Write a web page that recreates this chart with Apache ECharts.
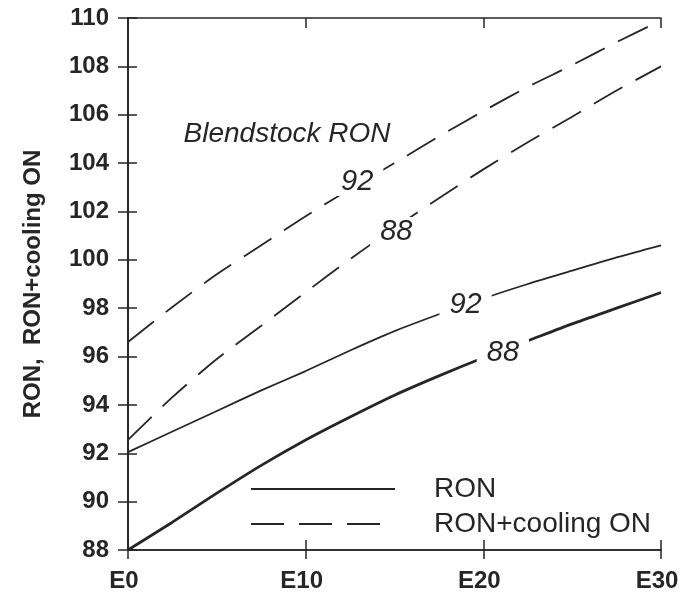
<!DOCTYPE html>
<html>
<head>
<meta charset="utf-8">
<script src="https://cdn.jsdelivr.net/npm/echarts@6/dist/echarts.min.js"></script>
<style>
  html, body { margin: 0; padding: 0; background: #fff; }
  #ronChart { width: 691px; height: 593px; }
</style>
</head>
<body>
<div id="ronChart"></div>
<script>
// ethanol blend level (E0 .. E30)
const ethanolLevels = [0, 2.5, 5, 7.5, 10, 12.5, 15, 17.5, 20, 22.5, 25, 27.5, 30];
const xTickValues = [0, 10, 20, 30];
const xTickLabels = ['E0', 'E10', 'E20', 'E30'];

// RON of the blend
const ron92 = [92.05, 92.9, 93.75, 94.6, 95.4, 96.25, 97.05, 97.75, 98.4, 99.0, 99.55, 100.1, 100.6];
const ron88 = [88.0, 89.15, 90.35, 91.5, 92.55, 93.5, 94.4, 95.2, 95.95, 96.65, 97.35, 98.0, 98.65];
// RON + charge cooling octane number
const cool92 = [96.6, 98.05, 99.4, 100.6, 101.8, 102.93, 104.0, 105.1, 106.15, 107.15, 108.05, 109.0, 109.9];
const cool88 = [92.55, 94.32, 95.9, 97.27, 98.66, 100.03, 101.32, 102.55, 103.74, 104.86, 105.92, 107.0, 108.0];

// blendstock labels sitting on the curves [E, value]
const blendLabels = ['92', '88', '92', '88'];
const blendLabelAt = [[19.0, 98.15], [21.1, 96.16], [12.9, 103.24], [15.1, 101.17]];
const titleText = 'Blendstock RON';
const titleAt = [8.95, 105.2];

const ink = '#262626';
const font = 'Liberation Sans, Arial, sans-serif';

function pairs(vals) {
  return ethanolLevels.map((e, i) => [e, vals[i]]);
}

function tagPoint(i) {
  return {
    symbol: 'rect',
    symbolSize: 0,
    silent: true,
    label: {
      show: true,
      position: 'inside',
      formatter: '{b}',
      fontFamily: font,
      fontStyle: 'italic',
      fontSize: 29,
      color: ink,
      backgroundColor: '#fff',
      padding: [0, 10],
    },
    data: [{ name: blendLabels[i], coord: blendLabelAt[i] }],
  };
}

function lineSeries(name, vals, width, dashed, idx) {
  return {
    name: name,
    type: 'line',
    data: pairs(vals),
    symbol: 'none',
    smooth: 0.25,
    lineStyle: {
      color: ink,
      width: width,
      type: dashed ? [33, 15] : 'solid',
    },
    itemStyle: { color: ink },
    markPoint: tagPoint(idx),
  };
}

let series = [
  lineSeries('RON', ron92, 1.8, false, 0),
  lineSeries('RON', ron88, 2.8, false, 1),
  lineSeries('RON+cooling ON', cool92, 1.8, true, 2),
  lineSeries('RON+cooling ON', cool88, 1.8, true, 3),
];
// title text inside the plot
series[0].markPoint.data.push({
  name: titleText,
  coord: titleAt,
  label: { backgroundColor: 'transparent', padding: 0, fontSize: 28 },
});

const axisLine = { show: true, lineStyle: { color: ink, width: 1.5 } };
const tickStyle = { color: ink, width: 1.5 };

let myChart = echarts.init(document.getElementById('ronChart'));
myChart.setOption({
  animation: false,
  grid: { left: 128, right: 30, top: 18, bottom: 43 },
  legend: {
    data: ['RON', 'RON+cooling ON'],
    orient: 'vertical',
    left: 250,
    top: 475,
    padding: 0,
    itemWidth: 144,
    itemHeight: 20,
    itemGap: 7,
    selectedMode: false,
    itemStyle: { opacity: 0 },
    textStyle: {
      fontFamily: font,
      fontSize: 28,
      color: ink,
      padding: [0, 0, 0, 34],
    },
  },
  xAxis: [
    {
      type: 'value', min: 0, max: 30, interval: 10, position: 'bottom',
      axisLine: axisLine,
      axisTick: { show: true, inside: false, length: 9, lineStyle: tickStyle },
      splitLine: { show: false },
      axisLabel: {
        margin: 19,
        fontFamily: font, fontSize: 24, fontWeight: 'bold', color: ink,
        padding: [0, 8, 0, 0],
        formatter: (v) => xTickLabels[xTickValues.indexOf(v)],
      },
    },
    {
      type: 'value', min: 0, max: 30, interval: 10, position: 'bottom',
      axisLine: axisLine,
      axisTick: { show: true, inside: true, length: 10, lineStyle: tickStyle },
      splitLine: { show: false }, axisLabel: { show: false },
    },
    {
      type: 'value', min: 0, max: 30, interval: 10, position: 'top',
      axisLine: axisLine,
      axisTick: { show: true, inside: true, length: 10, lineStyle: tickStyle },
      splitLine: { show: false }, axisLabel: { show: false },
    },
  ],
  yAxis: [
    {
      type: 'value', min: 88, max: 110, interval: 2, position: 'left',
      name: 'RON,  RON+cooling ON',
      nameLocation: 'middle',
      nameGap: 83,
      nameTextStyle: { fontFamily: font, fontSize: 24, fontWeight: 'bold', color: ink },
      axisLine: axisLine,
      axisTick: { show: true, inside: false, length: 10, lineStyle: tickStyle },
      splitLine: { show: false },
      axisLabel: { margin: 19, fontFamily: font, fontSize: 24, fontWeight: 'bold', color: ink },
    },
    {
      type: 'value', min: 88, max: 110, interval: 2, position: 'left',
      axisLine: axisLine,
      axisTick: { show: true, inside: true, length: 9, lineStyle: tickStyle },
      splitLine: { show: false }, axisLabel: { show: false },
    },
    {
      type: 'value', min: 88, max: 110, interval: 2, position: 'right',
      axisLine: axisLine,
      axisTick: { show: true, inside: true, length: 10, lineStyle: tickStyle },
      splitLine: { show: false }, axisLabel: { show: false },
    },
  ],
  series: series,
});
</script>
</body>
</html>
